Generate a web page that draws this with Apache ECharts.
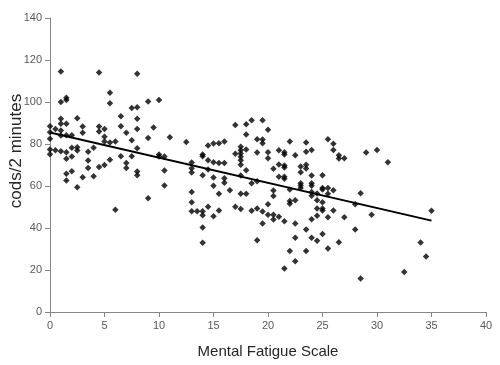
<!DOCTYPE html>
<html>
<head>
<meta charset="utf-8">
<script src="https://cdn.jsdelivr.net/npm/echarts@6/dist/echarts.min.js"></script>
<style>
html, body { margin: 0; padding: 0; background: #fff; }
#chart { width: 500px; height: 365px; }
</style>
</head>
<body>
<div id="chart"></div>
<script>
// Mental Fatigue Scale score per person
var fatigue = [
    0, 0, 0, 0, 0,
    0.5, 0.5,
    1, 1, 1, 1, 1, 1, 1,
    1.5, 1.5, 1.5, 1.5, 1.5, 1.5, 1.5, 1.5,
    2, 2, 2, 2,
    2.5, 2.5, 2.5, 2.5,
    3, 3, 3,
    3.5, 3.5, 3.5,
    4, 4,
    4.5, 4.5, 4.5, 4.5,
    5, 5, 5, 5,
    5.5, 5.5, 5.5, 5.5,
    6, 6,
    6.5, 6.5, 6.5,
    7, 7, 7,
    7.5, 7.5, 7.5,
    8, 8, 8, 8, 8, 8, 8,
    9, 9, 9,
    9.5,
    10, 10, 10,
    10.5, 10.5, 10.5,
    11,
    12.5,
    13, 13, 13, 13, 13, 13,
    13.5,
    14, 14, 14, 14, 14, 14, 14,
    14.5, 14.5, 14.5, 14.5,
    15, 15, 15, 15, 15,
    15.5, 15.5, 15.5, 15.5,
    16, 16, 16, 16,
    16.5,
    17, 17, 17,
    17.5, 17.5, 17.5, 17.5, 17.5, 17.5, 17.5, 17.5, 17.5,
    18, 18, 18, 18, 18,
    18.5, 18.5, 18.5,
    19, 19, 19, 19, 19,
    19.5, 19.5, 19.5, 19.5, 19.5,
    20, 20, 20, 20, 20,
    20.5, 20.5, 20.5, 20.5, 20.5,
    21, 21, 21, 21,
    21.5, 21.5, 21.5, 21.5, 21.5, 21.5, 21.5, 21.5,
    22, 22, 22, 22, 22,
    22.5, 22.5, 22.5, 22.5, 22.5,
    23, 23, 23, 23, 23,
    23.5, 23.5, 23.5, 23.5, 23.5, 23.5,
    24, 24, 24, 24, 24, 24, 24, 24,
    24.5, 24.5, 24.5, 24.5, 24.5,
    25, 25, 25, 25, 25, 25, 25,
    25.5, 25.5, 25.5, 25.5, 25.5,
    26, 26, 26, 26,
    26.5, 26.5, 26.5,
    27, 27,
    28, 28,
    28.5, 28.5,
    29, 29.5, 30, 31, 32.5, 34, 34.5, 35
];
// cods per 2 minutes, same order
var cods = [
    88.5, 85.6, 82.5, 77.4, 75.1,
    87.2, 77,
    114.5, 100, 92, 89.6, 86.4, 84, 76.6,
    102, 101, 89.6, 84.2, 76.1, 73, 65.8, 62.6,
    84.2, 78.2, 74, 67,
    92.3, 78.5, 76.9, 59.4,
    88.3, 85.3, 64.2,
    76.3, 72.1, 68.6,
    78.2, 64.7,
    114, 88.3, 86, 69.1,
    87.2, 83.4, 81.2, 70,
    104.4, 99.4, 80.7, 72.5,
    81.2, 48.7,
    93.2, 88.5, 74.2,
    85.3, 71, 68.6,
    97.2, 81.8, 74.2,
    113.4, 97.5, 92, 87.2, 78, 66.9, 65.1,
    100.2, 82.8, 54.2,
    87.9,
    101, 75, 74,
    74, 67.4, 60.2,
    83.2,
    81,
    71.2, 68.5, 66.4, 57.2, 52.3, 48,
    48,
    75, 74.2, 65.1, 48, 46.1, 40.2, 33,
    79.3, 72.3, 67.9, 50.1,
    80.2, 71.3, 64, 60.1, 45.6,
    80.4, 71, 56.3, 48.3,
    81.2, 71, 63.7, 61.5,
    58,
    89.1, 75.3, 50.1,
    78.7, 77, 75.5, 73.9, 72.3, 70.1, 65, 56.3, 49.1,
    89.4, 84.5, 77.4, 67.5, 56.3,
    91.3, 61.3, 48.2,
    82.3, 76, 62.3, 49.3, 34.2,
    91.3, 82.1, 80.4, 47.9, 42.1,
    86.8, 76.1, 73.2, 51.3, 46.3,
    68.2, 57.9, 55.2, 46.3, 44,
    77, 70.2, 64.4, 45.3,
    76.1, 75, 69.8, 68.8, 64.4, 63.4, 43.2, 20.7,
    81.2, 58.3, 52.8, 51.5, 29,
    74.7, 53.2, 42.1, 35.3, 24.2,
    69.3, 66.6, 61.3, 60.2, 59,
    80.7, 76.3, 70.1, 68.3, 39.3, 29.1,
    77.2, 65, 61.3, 60.1, 57.2, 55.3, 44.2, 35.3,
    56.4, 53.2, 49.3, 45.8, 33.9,
    65.1, 59, 58.3, 52.3, 49.3, 48.3, 37.2,
    82.3, 59.1, 56.3, 45.1, 30.2,
    80.1, 77.2, 58, 48.3,
    74.7, 73.1, 33.2,
    73.2, 45.1,
    51.3, 39.3,
    56.6, 15.9,
    76, 46.3, 77.2, 71.3, 19.1, 33.1, 26.4, 48.2
];
// linear trend line ends
var trendX = [0, 35];
var trendY = [85.5, 43.5];

var xTicks = [0, 5, 10, 15, 20, 25, 30, 35, 40];
var yTicks = [0, 20, 40, 60, 80, 100, 120, 140];

var points = [];
for (var i = 0; i < fatigue.length; i++) {
    points.push([fatigue[i], cods[i]]);
}
var trend = [];
for (var j = 0; j < trendX.length; j++) {
    trend.push([trendX[j], trendY[j]]);
}

var axisGrey = '#868686';
var labelGrey = '#595959';

var myChart = echarts.init(document.getElementById('chart'));
var option = {
    backgroundColor: '#fff',
    animation: false,
    grid: {
        left: 50,
        right: 14,
        top: 18,
        bottom: 53,
        containLabel: false,
        outerBoundsMode: 'none'
    },
    xAxis: {
        type: 'value',
        min: xTicks[0],
        max: xTicks[xTicks.length - 1],
        interval: 5,
        name: 'Mental Fatigue Scale',
        nameLocation: 'middle',
        nameGap: 32,
        nameMoveOverlap: false,
        nameTextStyle: {
            color: '#262626',
            fontFamily: 'Liberation Sans',
            fontSize: 15
        },
        splitLine: { show: false },
        axisLine: { lineStyle: { color: axisGrey, width: 1 } },
        axisTick: { show: true, length: 5, lineStyle: { color: axisGrey } },
        axisLabel: {
            color: labelGrey,
            fontFamily: 'Liberation Sans',
            fontSize: 11,
            margin: 8
        }
    },
    yAxis: {
        type: 'value',
        min: yTicks[0],
        max: yTicks[yTicks.length - 1],
        interval: 20,
        name: 'cods/2 minutes',
        nameLocation: 'middle',
        nameGap: 25,
        nameMoveOverlap: false,
        nameTextStyle: {
            color: '#262626',
            fontFamily: 'Liberation Sans',
            fontSize: 17,
            padding: [0, 0, 0, 28]
        },
        splitLine: { show: false },
        axisLine: { show: true, lineStyle: { color: axisGrey, width: 1 } },
        axisTick: { show: true, length: 5, lineStyle: { color: axisGrey } },
        axisLabel: {
            color: labelGrey,
            fontFamily: 'Liberation Sans',
            fontSize: 11,
            margin: 8
        }
    },
    series: [
        {
            type: 'scatter',
            data: points,
            symbol: 'diamond',
            symbolSize: 6.5,
            itemStyle: { color: '#000' },
            z: 3
        },
        {
            type: 'line',
            data: trend,
            symbol: 'none',
            lineStyle: { color: '#000', width: 2 },
            z: 2
        }
    ]
};
myChart.setOption(option);
</script>
</body>
</html>
